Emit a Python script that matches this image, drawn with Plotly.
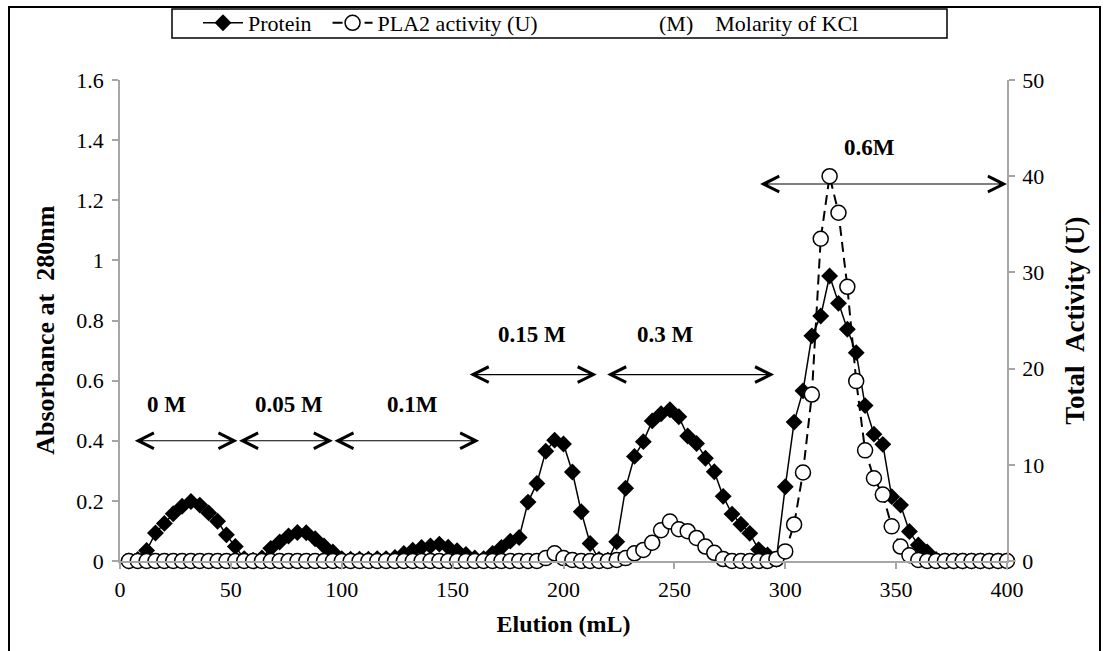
import plotly.graph_objects as go

# ---------------- data ----------------
elution_ml = [4, 8, 12, 16, 20, 24, 28, 32, 36, 40, 44, 48, 52, 56, 60, 64, 68, 72, 76, 80,
              84, 88, 92, 96, 100, 104, 108, 112, 116, 120, 124, 128, 132, 136, 140, 144, 148, 152, 156, 160,
              164, 168, 172, 176, 180, 184, 188, 192, 196, 200, 204, 208, 212, 216, 220, 224, 228, 232, 236, 240,
              244, 248, 252, 256, 260, 264, 268, 272, 276, 280, 284, 288, 292, 296, 300, 304, 308, 312, 316, 320,
              324, 328, 332, 336, 340, 344, 348, 352, 356, 360, 364, 368, 372, 376, 380, 384, 388, 392, 396, 400]

protein_abs = [0.0, 0.005, 0.035, 0.093, 0.125, 0.157, 0.182, 0.198, 0.186, 0.16,
               0.132, 0.087, 0.048, 0.008, 0.003, 0.01, 0.042, 0.063, 0.083, 0.095,
               0.094, 0.074, 0.05, 0.03, 0.008, 0.006, 0.006, 0.006, 0.008, 0.008,
               0.012, 0.025, 0.036, 0.045, 0.05, 0.056, 0.046, 0.034, 0.022, 0.01,
               0.008, 0.025, 0.045, 0.066, 0.078, 0.196, 0.258, 0.365, 0.402, 0.389,
               0.296, 0.164, 0.058, 0.005, 0.003, 0.064, 0.242, 0.348, 0.397, 0.466,
               0.49, 0.503, 0.48, 0.416, 0.391, 0.342, 0.297, 0.215, 0.156, 0.122,
               0.092, 0.038, 0.02, 0.006, 0.247, 0.462, 0.566, 0.749, 0.815, 0.948,
               0.857, 0.771, 0.693, 0.517, 0.422, 0.388, 0.214, 0.186, 0.098, 0.053,
               0.03, 0.005, 0.0, 0.0, 0.0, 0.0, 0.0, 0.0, 0.0, 0.0]

pla2_activity = [0, 0, 0, 0, 0, 0, 0, 0, 0, 0,
                 0, 0, 0, 0, 0, 0, 0, 0, 0, 0,
                 0, 0, 0, 0, 0, 0, 0, 0, 0, 0,
                 0, 0, 0, 0, 0, 0, 0, 0, 0, 0,
                 0, 0, 0, 0, 0, 0, 0, 0.3, 0.8, 0.3,
                 0.1, 0, 0, 0, 0, 0.1, 0.3, 0.8, 1.15, 1.9,
                 3.2, 4.1, 3.3, 3.1, 2.4, 1.5, 0.85, 0.2, 0, 0,
                 0, 0, 0, 0.2, 1.0, 3.8, 9.2, 17.3, 33.5, 40.0,
                 36.2, 28.5, 18.7, 11.5, 8.6, 6.9, 3.6, 1.5, 0.6, 0.1,
                 0, 0, 0, 0, 0, 0, 0, 0, 0, 0]

x_ticks = [0, 50, 100, 150, 200, 250, 300, 350, 400]
y_ticks = [0, 0.2, 0.4, 0.6, 0.8, 1.0, 1.2, 1.4, 1.6]
y_tick_text = ["0", "0.2", "0.4", "0.6", "0.8", "1", "1.2", "1.4", "1.6"]
y2_ticks = [0, 10, 20, 30, 40, 50]

# KCl steps: label, start (mL), end (mL)
kcl_labels = ["0 M", "0.05 M", "0.1M", "0.15 M", "0.3 M", "0.6M"]
kcl_start = [6, 53, 96, 157, 219, 288]
kcl_end = [53, 96, 162, 215, 295, 400]
# layout placement for those steps (absorbance units)
kcl_arrow_y = [0.40, 0.40, 0.40, 0.62, 0.62, 1.254]
kcl_label_x = [21, 76, 132, 186, 246, 338]
kcl_label_y = [0.52, 0.52, 0.52, 0.752, 0.752, 1.374]

# ---------------- figure ----------------
SERIF = "Liberation Serif"
AX = "#A6A6A6"
NB = "\u00a0"

fig = go.Figure()
fig.add_trace(go.Scatter(
    x=elution_ml, y=protein_abs, name="Protein" + NB * 2, mode="lines+markers",
    line=dict(color="black", width=1.5),
    marker=dict(symbol="diamond", size=13, color="black"),
    cliponaxis=False, yaxis="y"))
fig.add_trace(go.Scatter(
    x=elution_ml, y=pla2_activity, name="PLA2 activity (U)", mode="lines+markers",
    line=dict(color="black", width=2, dash="10px,6px"),
    marker=dict(symbol="circle", size=15, color="white", line=dict(color="black", width=1.5)),
    cliponaxis=False, yaxis="y2"))

for lab, xs, xe, ya, lx, ly in zip(kcl_labels, kcl_start, kcl_end, kcl_arrow_y, kcl_label_x, kcl_label_y):
    fig.add_annotation(x=xe, y=ya, ax=xs, ay=ya, xref="x", yref="y", axref="x", ayref="y",
                       text="", showarrow=True, arrowhead=5, startarrowhead=5,
                       arrowside="end+start", arrowsize=2.8, arrowwidth=1.1, arrowcolor="black",
                       startarrowsize=2.8, standoff=0, startstandoff=0)
    fig.add_annotation(x=lx, y=ly, xref="x", yref="y", text="<b>" + lab + "</b>",
                       showarrow=False, font=dict(family=SERIF, size=23, color="black"))

# legend frame and third legend entry
LEG_Y = (561 - 23) / 481
fig.add_shape(type="rect", xref="paper", yref="paper", x0=(172 - 120) / 887, x1=(947 - 120) / 887,
              y0=(561 - 38) / 481, y1=(561 - 9) / 481,
              line=dict(color="black", width=1.5), fillcolor="rgba(0,0,0,0)", layer="above")
fig.add_annotation(xref="paper", yref="paper", x=(657 - 120) / 887, y=LEG_Y, xanchor="left",
                   yanchor="middle",
                   text="(M)" + NB * 4 + "Molarity of KCl", showarrow=False,
                   font=dict(family=SERIF, size=22, color="black"))
# outer frame
fig.add_shape(type="rect", xref="paper", yref="paper", x0=(9 - 120) / 887, x1=(1100 - 120) / 887,
              y0=-0.3, y1=(561 - 7) / 481,
              line=dict(color="black", width=2), fillcolor="rgba(0,0,0,0)", layer="above")

axis_common = dict(showline=True, linecolor=AX, linewidth=1.5, ticks="outside", ticklen=6,
                   tickcolor=AX, tickwidth=1.5, showgrid=False, zeroline=False, automargin=False,
                   tickfont=dict(family=SERIF, size=22, color="black"))

fig.update_layout(
    template="none",
    width=1109, height=651,
    font=dict(family=SERIF, size=22, color="black"),
    margin=dict(l=120, r=102, t=80, b=90, autoexpand=False),
    paper_bgcolor="white", plot_bgcolor="white",
    showlegend=True,
    legend=dict(orientation="h", x=(198 - 120) / 887, y=LEG_Y, xanchor="left", yanchor="middle",
                bgcolor="rgba(0,0,0,0)", borderwidth=0,
                font=dict(family=SERIF, size=22, color="black"),
                itemwidth=40, tracegroupgap=0),
    xaxis=dict(range=[0, 400], tickvals=x_ticks, ticklabelstandoff=2,
               title=dict(text="<b>Elution (mL)</b>", standoff=14,
                          font=dict(family=SERIF, size=24, color="black")),
               **axis_common),
    yaxis=dict(range=[0, 1.6], tickvals=y_ticks, ticktext=y_tick_text, ticklabelstandoff=4,
               title=dict(text="<b>Absorbance at" + NB * 2 + "280nm" + NB * 3 + "</b>", standoff=14,
                          font=dict(family=SERIF, size=26, color="black")),
               **axis_common),
    yaxis2=dict(range=[0, 50], tickvals=y2_ticks, overlaying="y", side="right", ticklabelstandoff=3,
                title=dict(text="<b>Total" + NB * 2 + "Activity (U)</b>", standoff=22,
                           font=dict(family=SERIF, size=27, color="black")),
                **axis_common),
)

fig.write_html("out.html", config={"displayModeBar": False},
               post_script="document.body.style.margin='0';")
